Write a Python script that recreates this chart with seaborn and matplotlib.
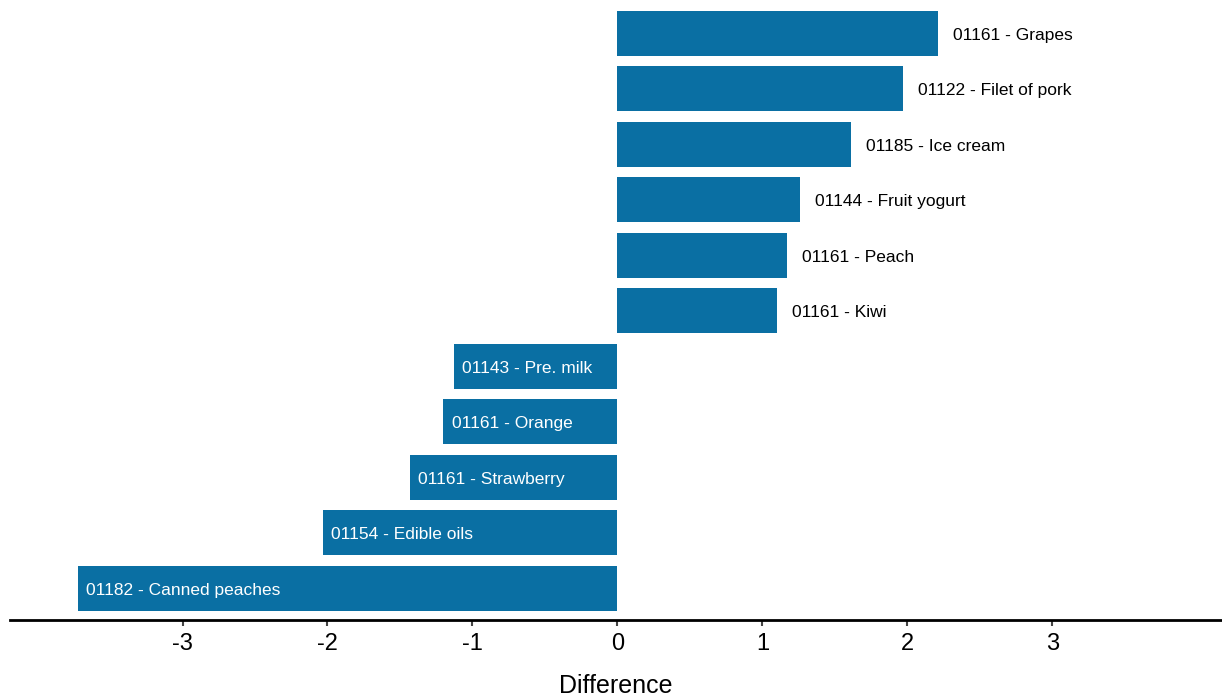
import numpy as np
import pandas as pd
import seaborn as sns
import matplotlib.pyplot as plt

items = ['01161 - Grapes', '01122 - Filet of pork', '01185 - Ice cream',
         '01144 - Fruit yogurt', '01161 - Peach', '01161 - Kiwi',
         '01143 - Pre. milk', '01161 - Orange', '01161 - Strawberry',
         '01154 - Edible oils', '01182 - Canned peaches']
diffs = [2.21, 1.97, 1.61, 1.26, 1.17, 1.10, -1.13, -1.20, -1.43, -2.03, -3.72]
ticks = [-3, -2, -1, 0, 1, 2, 3]

df = pd.DataFrame({'item': items, 'diff': diffs})

sns.set_style('white')
plt.rcParams['font.family'] = ['Liberation Sans', 'DejaVu Sans']

fig = plt.figure(figsize=(12.22, 6.98), dpi=100)
ax = fig.add_axes([10 / 1222, 78 / 698, 1 - 10 / 1222, 620 / 698])

sns.barplot(data=df, x='diff', y='item', order=items, orient='h',
            color='#0a6fa3', saturation=1, width=0.81, linewidth=0, ax=ax)

# labels: outside for positive bars, inside for negative ones
for i, (name, v) in enumerate(zip(items, diffs)):
    if v >= 0:
        ax.annotate(name, (v, i), xytext=(11, -1.5), textcoords='offset points',
                    ha='left', va='center', fontsize=12.5, color='black')
    else:
        ax.annotate(name, (v, i), xytext=(6, -1.5), textcoords='offset points',
                    ha='left', va='center', fontsize=12.5, color='white')

ax.set_xlim(-4.19, 4.17)
ax.set_ylim(10.57, -0.60)
ax.set_xticks(ticks)
ax.set_xticklabels([str(t) for t in ticks], fontsize=17, color='black')
ax.set_yticks([])
ax.set_ylabel('')
ax.set_xlabel('Difference', fontsize=18, labelpad=14, color='black')
ax.tick_params(axis='x', length=4, width=1.5, color='#444444', pad=5, bottom=True)
for s in ['top', 'right', 'left']:
    ax.spines[s].set_visible(False)
ax.spines['bottom'].set_linewidth(2)
ax.spines['bottom'].set_color('black')

fig.savefig('out.png', dpi=100)
